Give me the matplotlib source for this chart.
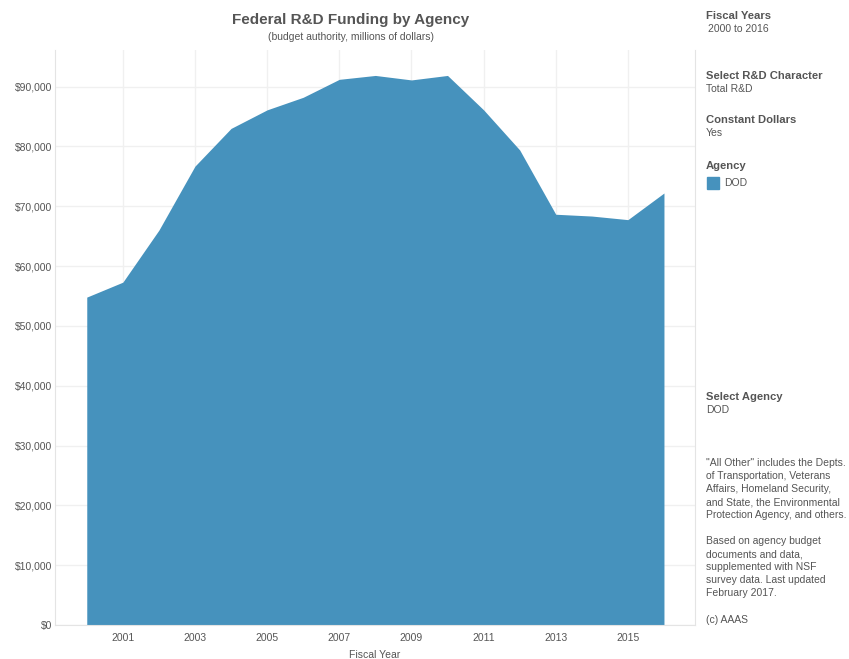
import matplotlib.pyplot as plt
from matplotlib.patches import Rectangle
from matplotlib.ticker import FuncFormatter

plt.rcParams['font.family'] = ['Liberation Sans', 'DejaVu Sans']

# DOD R&D budget authority, constant dollars (millions)
years = [2000, 2001, 2002, 2003, 2004, 2005, 2006, 2007, 2008,
         2009, 2010, 2011, 2012, 2013, 2014, 2015, 2016]
dod = [54800, 57300, 66000, 76700, 83000, 86100, 88200, 91200, 91850,
       91100, 91850, 86100, 79400, 68650, 68350, 67750, 72200]
xticks = [2001, 2003, 2005, 2007, 2009, 2011, 2013, 2015]
yticks = [0, 10000, 20000, 30000, 40000, 50000, 60000, 70000, 80000, 90000]

fill_color = '#4692bd'
text_color = '#555555'
grid_color = '#f0f0f0'

fig = plt.figure(figsize=(8.49, 6.59), dpi=100)
ax = fig.add_axes([0.0648, 0.0516, 0.7538, 0.8725])

ax.fill_between(years, dod, 0, color=fill_color, linewidth=0)
ax.set_xlim(1999.12, 2016.86)
ax.set_ylim(0, 96100)
ax.set_xticks(xticks)
ax.set_yticks(yticks)
ax.yaxis.set_major_formatter(FuncFormatter(lambda v, p: '${:,.0f}'.format(v)))
ax.grid(True, color=grid_color, linewidth=1)
ax.set_axisbelow(True)
ax.tick_params(axis='both', length=0, labelsize=7.5, colors=text_color)
ax.tick_params(axis='x', pad=6)
ax.tick_params(axis='y', pad=2)
ax.spines['top'].set_visible(False)
for side in ['left', 'bottom', 'right']:
    ax.spines[side].set_color('#e4e4e4')
ax.set_xlabel('Fiscal Year', fontsize=7.5, color=text_color, labelpad=5)

# title
fig.text(0.413, 0.969, 'Federal R&D Funding by Agency', ha='center', va='center',
         fontsize=11, fontweight='bold', color=text_color)
fig.text(0.413, 0.944, '(budget authority, millions of dollars)', ha='center', va='center',
         fontsize=7.5, color=text_color)

# right side panel
x0 = 706 / 849


def fy(py):
    return 1 - py / 659


def panel(py, label, bold=True, size=8.1, dx=0):
    fig.text(x0 + dx, fy(py), label, ha='left', va='center', fontsize=size,
             fontweight='bold' if bold else 'normal', color=text_color)


panel(16, 'Fiscal Years')
panel(29, '2000 to 2016', bold=False, size=7.5, dx=0.002)
panel(76, 'Select R&D Character')
panel(89, 'Total R&D', bold=False, size=7.5)
panel(120, 'Constant Dollars')
panel(133, 'Yes', bold=False, size=7.5)
panel(166, 'Agency')
fig.patches.append(Rectangle((707 / 849, fy(189)), 12 / 849, 12 / 659,
                             transform=fig.transFigure, color=fill_color))
panel(183, 'DOD', bold=False, size=7.5, dx=18 / 849)
panel(397, 'Select Agency')
panel(410, 'DOD', bold=False, size=7.5)

note1 = ['"All Other" includes the Depts.', 'of Transportation, Veterans',
         'Affairs, Homeland Security,', 'and State, the Environmental',
         'Protection Agency, and others.']
note2 = ['Based on agency budget', 'documents and data,',
         'supplemented with NSF', 'survey data. Last updated', 'February 2017.']
for i, line in enumerate(note1):
    panel(463 + i * 13.1, line, bold=False, size=7.5)
for i, line in enumerate(note2):
    panel(541 + i * 13.1, line, bold=False, size=7.5)
panel(620, '(c) AAAS', bold=False, size=7.5)

fig.savefig('out.png', dpi=100)
